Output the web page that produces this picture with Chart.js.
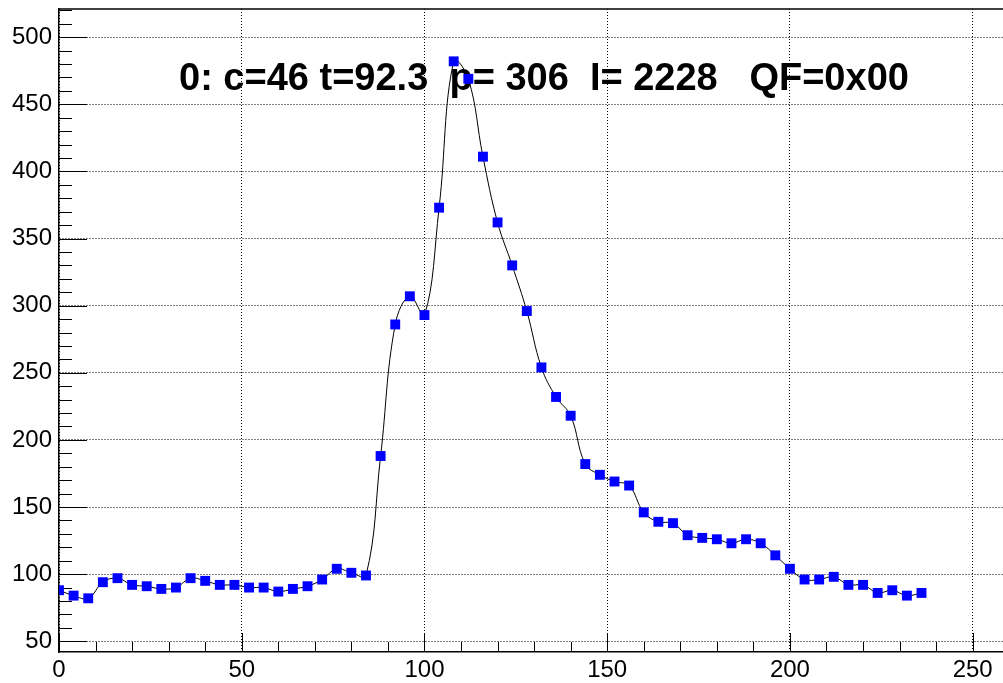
<!DOCTYPE html>
<html lang="en">
<head>
    <meta charset="UTF-8">
    <title>Pulse c=46</title>
    <script src="https://cdn.jsdelivr.net/npm/chart.js"></script>
    <style>
        body { margin: 0; background: #fff; }
        #wrap { width: 1003px; height: 683px; }
    </style>
</head>
<body>
    <div id="wrap"><canvas id="pulseChart"></canvas></div>

    <script>
        // Sample times and ADC values of the pulse
        const sampleX = [0, 4, 8, 12, 16, 20, 24, 28, 32, 36, 40, 44, 48, 52, 56, 60, 64, 68, 72, 76,
                         80, 84, 88, 92, 96, 100, 104, 108, 112, 116, 120, 124, 128, 132, 136, 140, 144, 148, 152, 156,
                         160, 164, 168, 172, 176, 180, 184, 188, 192, 196, 200, 204, 208, 212, 216, 220, 224, 228, 232, 236];
        const sampleY = [88, 84, 82, 94, 97, 92, 91, 89, 90, 97, 95, 92, 92, 90, 90, 87, 89, 91, 96, 104,
                         101, 99, 188, 286, 307, 293, 373, 482, 469, 411, 362, 330, 296, 254, 232, 218, 182, 174, 169, 166,
                         146, 139, 138, 129, 127, 126, 123, 126, 123, 114, 104, 96, 96, 98, 92, 92, 86, 88, 84, 86];

        const xTicks = [0, 50, 100, 150, 200, 250];
        const yTicks = [50, 100, 150, 200, 250, 300, 350, 400, 450, 500];
        const headerText = '0: c=46 t=92.3  p= 306  I= 2228   QF=0x00';

        const FONT = '"Liberation Sans", Arial, Helvetica, sans-serif';
        const noPad = s => { s.paddingLeft = 0; s.paddingRight = 0; s.paddingTop = 0; s.paddingBottom = 0; };

        // ROOT-like frame: inward ticks, top border, header text
        const rootFrame = {
            id: 'rootFrame',
            beforeDatasetsDraw(chart) {
                const { ctx, chartArea: a, scales: { x, y } } = chart;
                ctx.save();
                ctx.strokeStyle = '#000';
                ctx.lineWidth = 1;
                ctx.setLineDash([]);
                ctx.beginPath();
                // y ticks
                for (let v = 50; v <= y.max; v += 10) {
                    const py = Math.round(y.getPixelForValue(v)) + 0.5;
                    const len = v % 50 === 0 ? 28 : 13;
                    ctx.moveTo(a.left, py);
                    ctx.lineTo(a.left + len, py);
                }
                // x ticks
                for (let v = 0; v <= x.max; v += 10) {
                    const px = Math.round(x.getPixelForValue(v)) + 0.5;
                    const len = v % 50 === 0 ? 19 : 10;
                    ctx.moveTo(px, a.bottom);
                    ctx.lineTo(px, a.bottom - len);
                }
                ctx.stroke();
                // top frame line
                ctx.lineWidth = 1.5;
                ctx.beginPath();
                ctx.moveTo(a.left, a.top);
                ctx.lineTo(a.right, a.top);
                ctx.stroke();

                ctx.font = 'bold 38px ' + FONT;
                ctx.fillStyle = '#000';
                ctx.textAlign = 'left';
                ctx.textBaseline = 'alphabetic';
                ctx.fillText(headerText, 179, 90);
                ctx.restore();
            }
        };

        const ctx = document.getElementById('pulseChart').getContext('2d');
        new Chart(ctx, {
            type: 'line',
            data: {
                datasets: [{
                    data: sampleX.map((x, i) => ({ x: x, y: sampleY[i] })),
                    borderColor: '#000',
                    borderWidth: 1,
                    tension: 0.4,
                    pointStyle: 'rect',
                    pointRadius: 7,
                    pointBackgroundColor: '#0000ff',
                    pointBorderColor: '#0000ff',
                    pointBorderWidth: 0,
                    fill: false
                }]
            },
            options: {
                responsive: true,
                maintainAspectRatio: false,
                animation: false,
                layout: { autoPadding: false, padding: { top: 9, right: 0, left: 0, bottom: 0 } },
                plugins: {
                    legend: { display: false },
                    tooltip: { enabled: false }
                },
                scales: {
                    x: {
                        type: 'linear',
                        min: 0,
                        max: 258.3,
                        afterBuildTicks: s => { s.ticks = xTicks.map(v => ({ value: v })); },
                        afterFit: s => { s.height = 31; noPad(s); },
                        grid: { color: '#000', lineWidth: 1, drawTicks: false },
                        border: { display: true, color: '#000', width: 1.5, dash: [1, 2] },
                        ticks: { color: '#000', padding: 4, maxRotation: 0, font: { family: FONT, size: 24 } }
                    },
                    y: {
                        type: 'linear',
                        min: 42,
                        max: 521,
                        afterBuildTicks: s => { s.ticks = yTicks.map(v => ({ value: v })); },
                        afterFit: s => { s.width = 59; noPad(s); },
                        grid: { color: '#000', lineWidth: 1, drawTicks: false },
                        border: { display: true, color: '#000', width: 1.5, dash: [1, 2] },
                        ticks: { color: '#000', padding: 7, font: { family: FONT, size: 24 } }
                    }
                }
            },
            plugins: [rootFrame]
        });
    </script>
</body>
</html>
